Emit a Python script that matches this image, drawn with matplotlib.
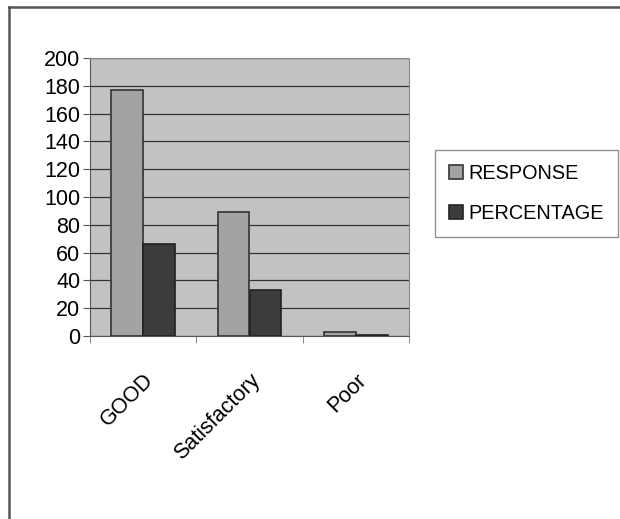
import numpy as np
import matplotlib.pyplot as plt
from matplotlib.lines import Line2D

categories = ["GOOD", "Satisfactory", "Poor"]
response = [177, 89, 3]
percentage = [66, 33, 1]
series_names = ["RESPONSE", "PERCENTAGE"]

plt.rcParams["font.family"] = ["Liberation Sans", "DejaVu Sans"]

W, H = 620, 519
fig = plt.figure(figsize=(W / 100, H / 100), dpi=100)
fig.patch.set_facecolor("white")

# chart frame: top and left edges only
fig.add_artist(Line2D([9 / W, 1.0], [1 - 7 / H, 1 - 7 / H], transform=fig.transFigure,
                      color="#555555", linewidth=1.8))
fig.add_artist(Line2D([9 / W, 9 / W], [0.0, 1 - 7 / H], transform=fig.transFigure,
                      color="#555555", linewidth=1.8))

ax = fig.add_axes([90 / W, 1 - 336 / H, 319 / W, 278 / H])
ax.set_facecolor("#c2c2c2")

x = np.arange(len(categories))
w = 0.3
ax.bar(x - w / 2, response, w, color="#a3a3a3", edgecolor="#333333",
       linewidth=1.2, label=series_names[0], zorder=3)
ax.bar(x + w / 2, percentage, w, color="#3c3c3c", edgecolor="#222222",
       linewidth=1.2, label=series_names[1], zorder=3)

ax.set_xlim(-0.5, len(categories) - 0.5)
ax.set_ylim(0, 200)
ax.set_yticks(range(0, 201, 20))
ax.yaxis.grid(True, color="#333333", linewidth=0.9, zorder=1)
ax.tick_params(axis="y", labelsize=15.5, length=5, color="#555555", pad=2)

# category labels, tick marks between groups
ax.set_xticks(x)
ax.set_xticklabels(categories, rotation=45, ha="right", rotation_mode="anchor",
                   fontsize=15.5)
ax.tick_params(axis="x", length=0, pad=24)
ax.set_xticks(np.arange(-0.5, len(categories), 1.0), minor=True)
ax.tick_params(axis="x", which="minor", length=5, color="#777777")

for side in ["top", "right"]:
    ax.spines[side].set_color("#888888")
ax.spines["left"].set_color("#555555")
ax.spines["bottom"].set_color("#555555")

leg = fig.legend(loc="upper left", bbox_to_anchor=(435 / W, 1 - 150 / H),
                 borderaxespad=0, frameon=True, fontsize=14.3, handlelength=0.7,
                 handleheight=0.7, labelspacing=1.05, borderpad=0.7,
                 handletextpad=0.3, fancybox=False, edgecolor="#777777")
leg.get_frame().set_linewidth(1.0)

fig.savefig("out.png", dpi=100)
